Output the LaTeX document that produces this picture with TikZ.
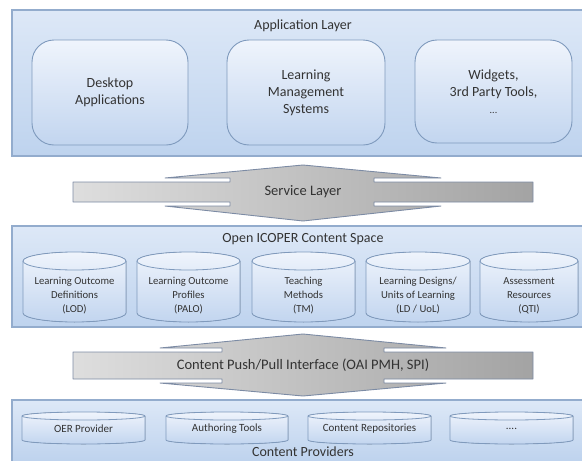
\documentclass[tikz,border=0pt]{standalone}
\usepackage{fontspec}
\setmainfont{Carlito}
\usepackage{xcolor}
\usepackage{tikz}
\usetikzlibrary{calc}

\definecolor{bandtop}{HTML}{DDE8F7}
\definecolor{bandbot}{HTML}{BED3EE}
\definecolor{bandline}{HTML}{93ACCD}
\definecolor{boxtop}{HTML}{EFF4FC}
\definecolor{boxbot}{HTML}{C2D5EF}
\definecolor{boxline}{HTML}{7F9ABD}
\definecolor{arrowline}{HTML}{7C8BA4}
\definecolor{ink}{HTML}{333333}

\tikzset{
  bandfill/.style={top color=bandtop, bottom color=bandbot},
  bandedge/.style={draw=bandline, line width=1.2pt},
  layertitle/.style={text=ink, font=\fontsize{14}{16}\selectfont},
  appbox/.style={draw=boxline, line width=0.9pt, rounded corners=22pt,
    top color=boxtop, bottom color=boxbot, align=center, text=ink,
    font=\fontsize{14}{17}\selectfont, inner sep=0pt},
  dbbody/.style={draw=boxline, line width=0.8pt, top color=boxtop, bottom color=boxbot},
  dbrim/.style={draw=boxline, line width=0.8pt},
  dbtext/.style={align=center, text=ink, font=\fontsize{10.7}{14}\selectfont},
  bigarrow/.style={draw=arrowline, line width=0.9pt, line join=round,
    left color=black!13, middle color=black!22, right color=black!36},
  arrowtext/.style={text=ink, font=\fontsize{14.5}{17}\selectfont},
}

% database cylinder: [text style] name, x centre, top y, bottom y, half width, end radius, text y, label
\newcommand{\dbcyl}[9][]{%
  \filldraw[dbbody] ({#3-#6},#4) -- ({#3-#6},#5)
    arc[start angle=180, end angle=0, x radius=#6, y radius=#7]
    -- ({#3+#6},#4)
    arc[start angle=0, end angle=-180, x radius=#6, y radius=#7] -- cycle;
  \draw[dbrim] ({#3-#6},#4) arc[start angle=180, end angle=0, x radius=#6, y radius=#7];
  \node[dbtext,#1] (#2) at (#3,#8) {#9};
}

\begin{document}
\begin{tikzpicture}[x=1pt,y=-1pt]
\useasboundingbox (0,0) rectangle (582,461);

% Application layer
\fill[bandfill] (12,10) rectangle (582,156);
\draw[bandedge] (582,10) -- (12,10) -- (12,156) -- (582,156);
\node[layertitle] (applayer) at (303,26) {Application Layer};

\node[appbox, minimum width=156pt, minimum height=105pt] (desktop) at (110,92.5) {Desktop\\Applications};
\node[appbox, minimum width=158pt, minimum height=105pt] (lms) at (306,92.5) {Learning\\Management\\Systems};
\node[appbox, minimum width=157pt, minimum height=103pt] (widgets) at (493.5,91.5) {Widgets,\\3rd Party Tools,\\\fontsize{10}{12}\selectfont ...};

% Service layer (double arrow over a bar)
\draw[bigarrow] (73,182) -- (230,182) -- (230,178) -- (165,178) -- (303,165) -- (441,178)
  -- (374,178) -- (374,182) -- (533,182) -- (533,202) -- (374,202) -- (374,206)
  -- (441,206) -- (303,221) -- (165,206) -- (230,206) -- (230,202) -- (73,202) -- cycle;
\node[arrowtext] (service) at (303,192) {Service Layer};

% Open ICOPER content space
\fill[bandfill] (12,226) rectangle (582,327);
\draw[bandedge] (582,226) -- (12,226) -- (12,327) -- (582,327);
\node[layertitle] (space) at (303,239) {Open ICOPER Content Space};

\dbcyl{lod}{74.5}{261}{313}{51.5}{9}{296}{Learning Outcome\\Definitions\\(LOD)}
\dbcyl{palo}{188.5}{261}{313}{51.5}{9}{296}{Learning Outcome\\Profiles\\(PALO)}
\dbcyl{tm}{303.5}{261}{313}{51.5}{9}{296}{Teaching\\Methods\\(TM)}
\dbcyl{ld}{418}{261}{313}{52}{9}{296}{Learning Designs/\\Units of Learning\\(LD / UoL)}
\dbcyl{qti}{529}{261}{313}{49}{9}{296}{Assessment\\Resources\\(QTI)}

% Content push/pull interface
\draw[bigarrow] (73,352) -- (222,352) -- (222,348) -- (160,348) -- (303,334) -- (446,348)
  -- (384,348) -- (384,352) -- (533,352) -- (533,379) -- (384,379) -- (384,383)
  -- (446,383) -- (303,396) -- (160,383) -- (222,383) -- (222,379) -- (73,379) -- cycle;
\node[arrowtext] (pushpull) at (303,365.5) {Content Push/Pull Interface (OAI PMH, SPI)};

% Content providers
\fill[bandfill] (12,400) rectangle (582,461);
\draw[bandedge] (582,400) -- (12,400) -- (12,461);
\node[layertitle] (providers) at (303,452) {Content Providers};

\dbcyl[font=\fontsize{11}{13}\selectfont]{oer}{83.5}{416}{440}{61.5}{4}{429}{OER Provider}
\dbcyl[font=\fontsize{11}{13}\selectfont]{authoring}{227}{416}{440}{61}{4}{429}{Authoring Tools}
\dbcyl[font=\fontsize{11}{13}\selectfont]{repos}{369.5}{416}{440}{61.5}{4}{429}{Content Repositories}
\dbcyl[font=\fontsize{11}{13}\selectfont]{more}{511.5}{416}{440}{61.5}{4}{429}{....}
\end{tikzpicture}
\end{document}
